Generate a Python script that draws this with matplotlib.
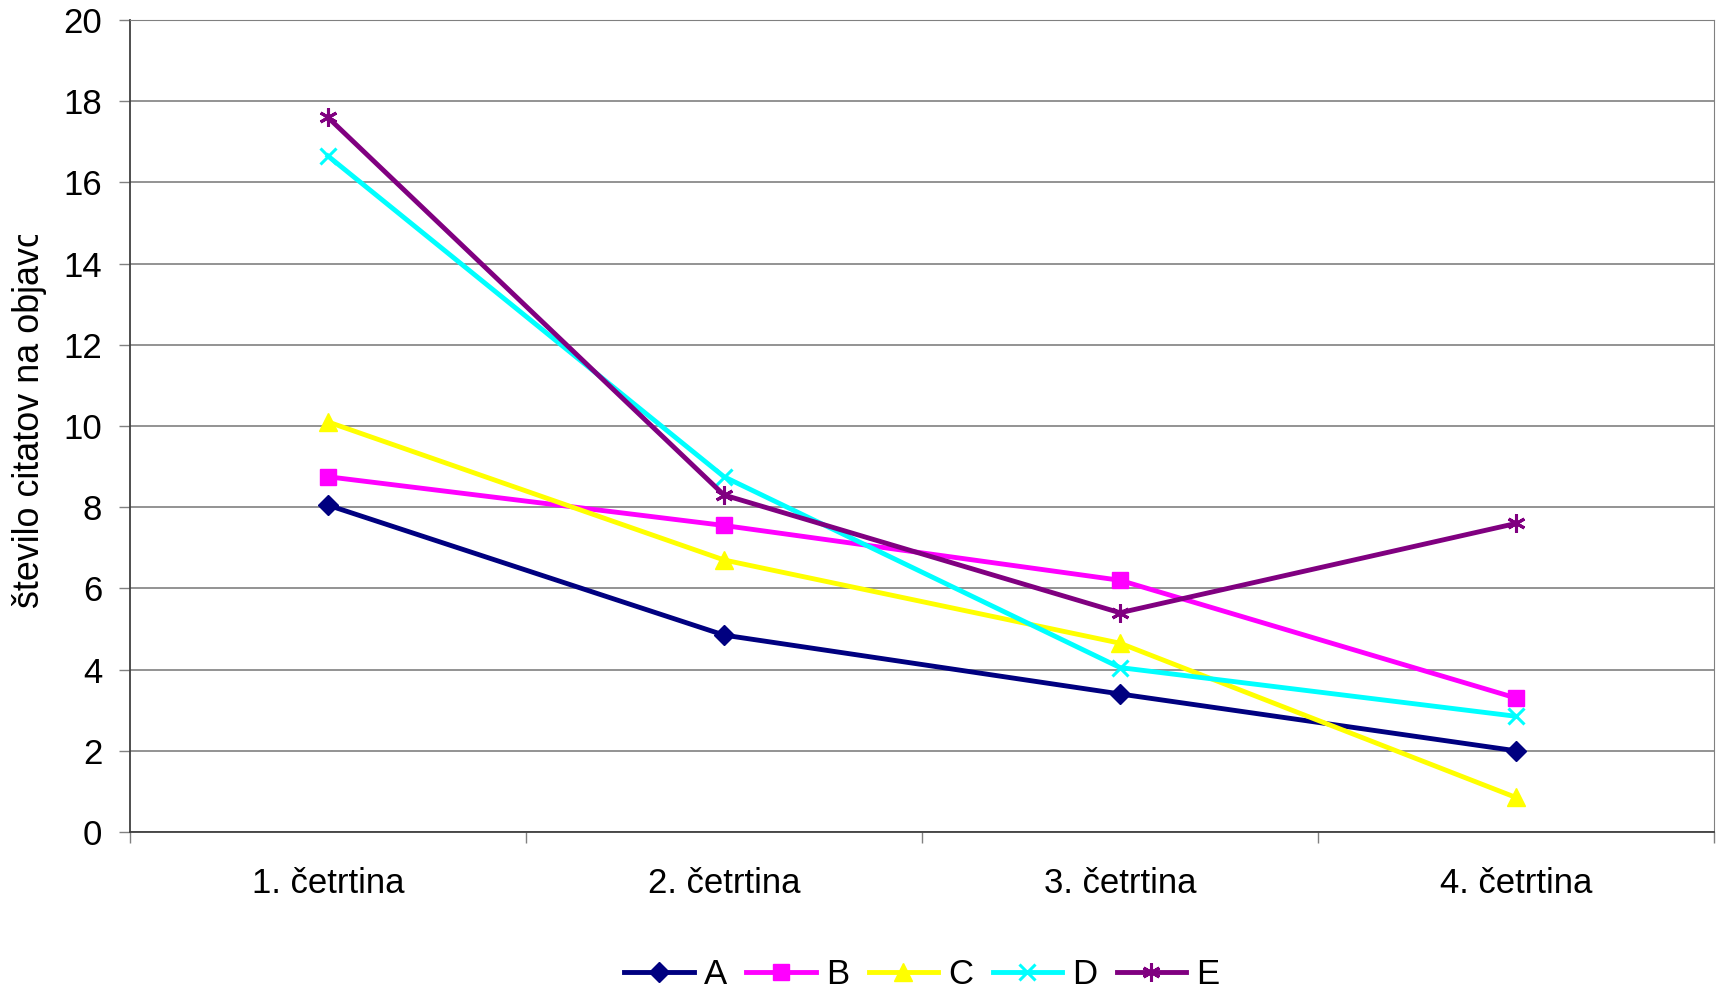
import numpy as np
import matplotlib.pyplot as plt
from matplotlib.transforms import Bbox, TransformedBbox
from matplotlib.ticker import FixedLocator, NullFormatter

# ---- data ----
kategorije = ['1. četrtina', '2. četrtina', '3. četrtina', '4. četrtina']
serija_A = [8.05, 4.85, 3.40, 2.00]
serija_B = [8.75, 7.55, 6.20, 3.30]
serija_C = [10.10, 6.70, 4.65, 0.85]
serija_D = [16.65, 8.75, 4.05, 2.85]
serija_E = [17.60, 8.30, 5.40, 7.60]
imena = ['A', 'B', 'C', 'D', 'E']

plt.rcParams['font.family'] = ['Liberation Sans', 'DejaVu Sans']

fig = plt.figure(figsize=(17.19, 9.89), dpi=100)
ax = fig.add_axes([130/1719, 1-832/989, (1714-130)/1719, (832-20)/989])

x = np.arange(len(kategorije))
stil = [('#000080', 'D', 10),
        ('#FF00FF', 's', 11),
        ('#FFFF00', '^', 13),
        ('#00FFFF', 'x', 11),
        ('#800080', (6, 2, 0), 13)]
podatki = [serija_A, serija_B, serija_C, serija_D, serija_E]
for ime, y, (c, m, ms) in zip(imena, podatki, stil):
    ax.plot(x, y, color=c, lw=3.5, marker=m, ms=ms, mew=2.2 if m in ('x', (6, 2, 0)) else 1,
            mec=c, mfc=c, label=ime, clip_on=False, zorder=3)

ax.set_xlim(-0.5, 3.5)
ax.set_ylim(0, 20)
ax.set_yticks(np.arange(0, 21, 2))
ax.yaxis.grid(True, color='#808080', lw=1.2)
ax.set_axisbelow(True)
ax.tick_params(axis='y', labelsize=25, length=8, width=1, pad=12, color='#808080')

ax.set_xticks(x)
ax.set_xticklabels(kategorije)
ax.xaxis.set_minor_locator(FixedLocator(np.arange(-0.5, 3.6, 1)))
ax.xaxis.set_minor_formatter(NullFormatter())
ax.tick_params(axis='x', which='major', length=0, labelsize=25, pad=25)
ax.tick_params(axis='x', which='minor', length=8, width=1, color='#808080')

for s in ['top', 'right']:
    ax.spines[s].set_color('#808080')
for s in ['left', 'bottom']:
    ax.spines[s].set_color('#404040')
    ax.spines[s].set_linewidth(1.3)

# y axis title, clipped at the top like in the reference
t = fig.text(30/1719, 1-608/989, 'število citatov na objavo', rotation=90,
             ha='center', va='bottom', fontsize=25.8)
t.set_clip_on(True)
t.set_clip_box(TransformedBbox(Bbox([[0, 0], [0.1, 1-235/989]]), fig.transFigure))

fig.legend(loc='center', bbox_to_anchor=(922/1719, 1-975/989), ncol=5, frameon=False,
           fontsize=25, handlelength=2.0, columnspacing=0.55, handletextpad=0.3)

fig.savefig('out.png', dpi=100)
